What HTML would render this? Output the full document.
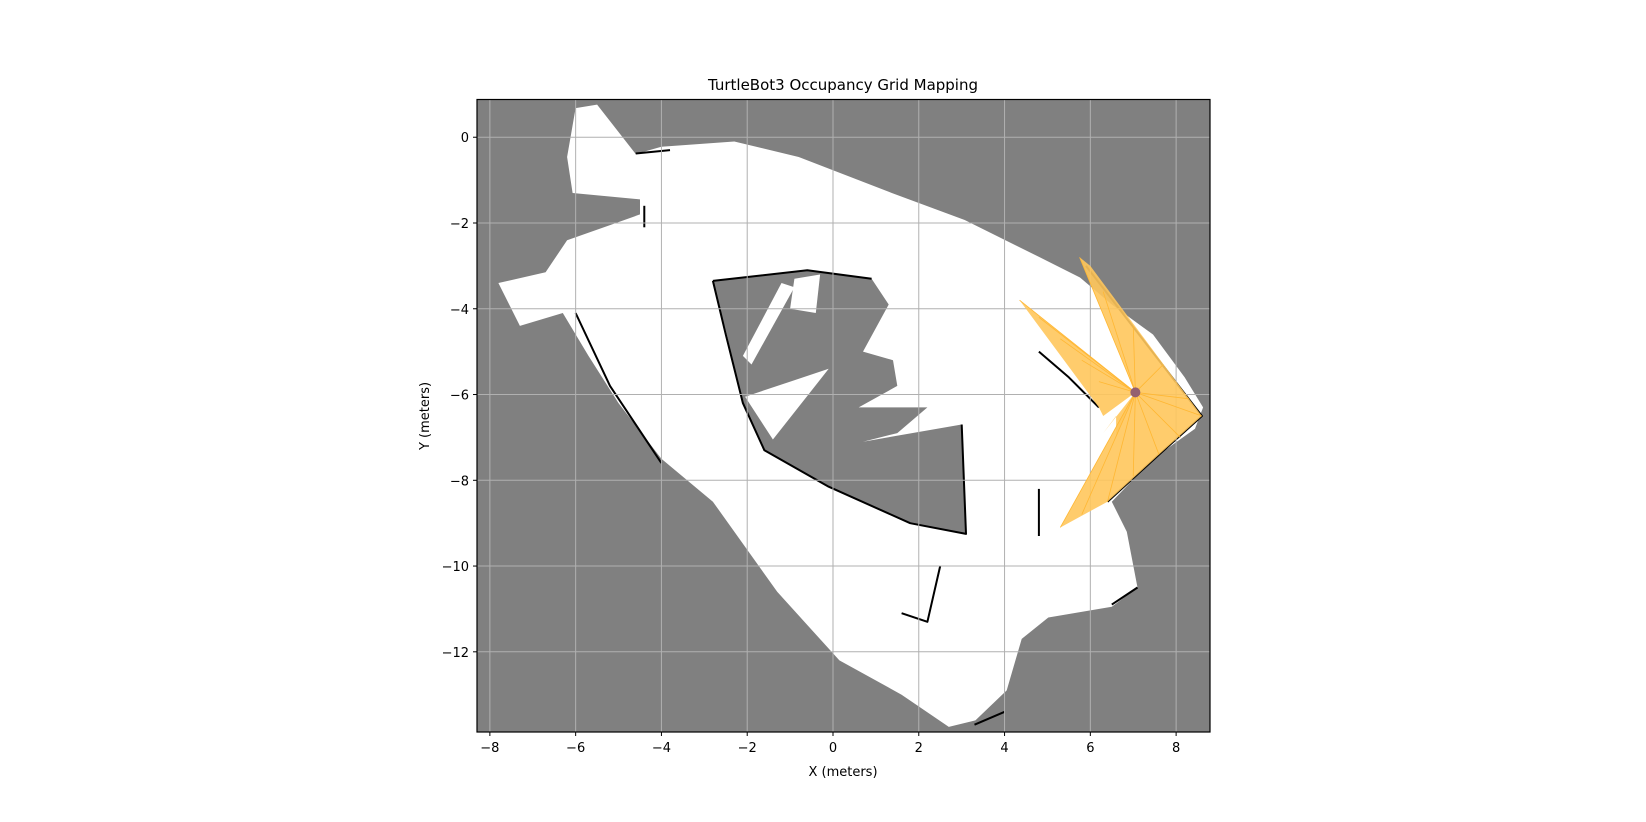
<!DOCTYPE html>
<html><head><meta charset="utf-8"><style>
html,body{margin:0;padding:0;background:#fff;}
svg{display:block;font-family:"DejaVu Sans","Liberation Sans",sans-serif;}
</style></head><body>
<svg id="chart" width="1646" height="822" viewBox="0 0 1646 822" xmlns="http://www.w3.org/2000/svg">
<text x="843" y="90" font-size="15" text-anchor="middle">TurtleBot3 Occupancy Grid Mapping</text>
<text x="843" y="776" font-size="13" text-anchor="middle">X (meters)</text>
<text transform="translate(429,416) rotate(-90)" font-size="13" text-anchor="middle">Y (meters)</text>
<g id="plot"></g>
</svg>
<script>
const xTicks=[-8,-6,-4,-2,0,2,4,6,8];
const yTicks=[0,-2,-4,-6,-8,-10,-12];
const freeOutline=[[-6.0,0.68],[-5.5,0.76],[-4.6,-0.39],[-4.0,-0.22],[-2.3,-0.1],[-0.8,-0.46],[1.37,-1.3],[3.07,-1.93],[4.78,-2.78],[5.76,-3.27],[6.5,-3.9],[7.46,-4.6],[8.2,-5.6],[8.63,-6.3],[8.44,-6.8],[7.46,-7.5],[6.5,-8.5],[6.85,-9.2],[7.1,-10.5],[6.5,-10.95],[5.02,-11.2],[4.4,-11.7],[4.05,-12.9],[3.32,-13.6],[2.7,-13.75],[1.6,-13.0],[0.15,-12.2],[-1.3,-10.6],[-2.8,-8.5],[-4.0,-7.5],[-5.0,-6.2],[-5.7,-5.1],[-6.3,-4.1],[-7.3,-4.4],[-7.8,-3.4],[-6.7,-3.15],[-6.2,-2.4],[-5.2,-2.05],[-4.5,-1.8],[-4.5,-1.45],[-6.07,-1.3],[-6.2,-0.46]];
const innerUnknown=[[-2.8,-3.35],[-0.6,-3.1],[0.9,-3.3],[1.3,-3.9],[0.7,-5.0],[1.4,-5.2],[1.5,-5.8],[0.6,-6.3],[2.2,-6.3],[1.5,-6.9],[0.7,-7.1],[3.0,-6.7],[3.1,-9.25],[1.8,-9.0],[-0.1,-8.15],[-1.6,-7.3],[-2.1,-6.2],[-2.5,-4.5]];
const freeCutouts=[
 [[-2.05,-6.05],[-0.1,-5.4],[-1.4,-7.05]],
 [[-0.9,-3.3],[-0.3,-3.2],[-0.4,-4.1],[-1.0,-4.0]],
 [[-1.2,-3.4],[-0.9,-3.5],[-1.9,-5.3],[-2.1,-5.1]]
];
const walls=[
 [[-2.8,-3.35],[-2.5,-4.6],[-2.1,-6.2],[-1.6,-7.3],[-0.1,-8.15],[1.8,-9.0],[3.1,-9.25],[3.0,-6.7]],
 [[-2.8,-3.35],[-0.6,-3.1],[0.9,-3.3]],
 [[-6.0,-4.1],[-5.2,-5.8],[-4.0,-7.6]],
 [[-4.6,-0.38],[-3.8,-0.3]],
 [[5.9,-3.0],[8.6,-6.5],[7.6,-7.4],[6.4,-8.5]],
 [[4.8,-5.0],[5.5,-5.6],[6.2,-6.3]],
 [[4.8,-8.2],[4.8,-9.3]],
 [[3.3,-13.7],[4.0,-13.4]],
 [[6.5,-10.9],[7.1,-10.5]],
 [[2.5,-10.0],[2.2,-11.3],[1.6,-11.1]],
 [[-4.4,-1.6],[-4.4,-2.1]]
];
const robot=[7.05,-5.95];
const rayEnds=[[4.35,-3.8],[4.8,-4.2],[5.3,-4.7],[5.8,-5.2],[6.2,-5.7],[5.75,-2.8],[6.3,-3.6],[7.0,-4.4],[7.7,-5.3],[8.3,-6.1],[8.6,-6.5],[8.1,-7.0],[7.6,-7.4],[7.0,-7.9],[6.4,-8.5],[5.8,-8.8],[5.3,-9.1]];
const rayFill=[[[4.35,-3.8],[6.2,-6.3],[6.3,-6.5]],[[5.75,-2.8],[6.0,-3.0],[8.6,-6.5],[7.6,-7.4],[6.4,-8.5],[5.3,-9.1]],[[6.3,-6.9],[6.6,-6.5],[6.6,-7.0]]];

const X0=477,X1=1210,Y0=99.5,Y1=732;
const xmin=-8.3,xmax=8.79,ymax=0.88,ymin=-13.87;
const sx=v=>X0+(v-xmin)/(xmax-xmin)*(X1-X0);
const sy=v=>Y0+(ymax-v)/(ymax-ymin)*(Y1-Y0);
const NS='http://www.w3.org/2000/svg';
const g=document.getElementById('plot');
function mk(t,a){const e=document.createElementNS(NS,t);for(const k in a)e.setAttribute(k,a[k]);g.appendChild(e);return e;}
const pts=p=>p.map(q=>sx(q[0]).toFixed(1)+','+sy(q[1]).toFixed(1)).join(' ');

let e=mk('rect',{x:X0,y:Y0,width:X1-X0,height:Y1-Y0,fill:'#808080'});


e=mk('polygon',{points:pts(freeOutline),fill:'#fff'});


e=mk('polygon',{points:pts(innerUnknown),fill:'#808080'});


freeCutouts.forEach(c=>{const el=mk('polygon',{points:pts(c),fill:'#fff'});

});
walls.forEach(w=>{const el=mk('polyline',{points:pts(w),fill:'none',stroke:'#000','stroke-width':2,'stroke-linejoin':'round'});

});
xTicks.forEach(t=>{const el=mk('line',{x1:sx(t),x2:sx(t),y1:Y0,y2:Y1,stroke:'#b0b0b0','stroke-width':1});


const tk=mk('line',{x1:sx(t),x2:sx(t),y1:Y1,y2:Y1+4,stroke:'#000'});


const tx=mk('text',{x:sx(t),y:Y1+20,'font-size':13,'text-anchor':'middle'});tx.textContent=(t<0?'\u2212'+(-t):t);

});
yTicks.forEach(t=>{const el=mk('line',{x1:X0,x2:X1,y1:sy(t),y2:sy(t),stroke:'#b0b0b0','stroke-width':1});


const tk=mk('line',{x1:X0-4,x2:X0,y1:sy(t),y2:sy(t),stroke:'#000'});


const tx=mk('text',{x:X0-8,y:sy(t)+5,'font-size':13,'text-anchor':'end'});tx.textContent=(t<0?'\u2212'+(-t):t);

});
rayFill.forEach(f=>{const el=mk('polygon',{points:pts([robot].concat(f)),fill:'#ffc65c','fill-opacity':0.9});

});
rayEnds.forEach(r=>{const el=mk('line',{x1:sx(robot[0]),y1:sy(robot[1]),x2:sx(r[0]),y2:sy(r[1]),stroke:'#ffb733','stroke-width':0.8});

});
e=mk('circle',{cx:sx(robot[0]),cy:sy(robot[1]),r:5,fill:'#956070'});


e=mk('rect',{x:X0,y:Y0,width:X1-X0,height:Y1-Y0,fill:'none',stroke:'#000','stroke-width':1.2});


</script>
</body></html>
